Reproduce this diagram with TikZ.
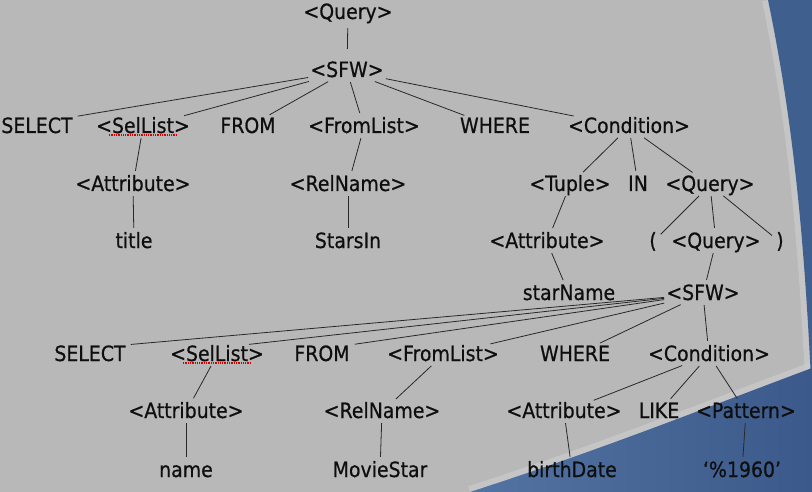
\documentclass[tikz,border=0pt]{standalone}
\usepackage{fontspec}
\setmainfont{DejaVu Sans}[FakeStretch=0.9, FakeBold=0.6]
\definecolor{slidegray}{HTML}{B8B8B8}
\definecolor{glowgray}{HTML}{CBCBCB}
\definecolor{slideblue}{HTML}{3F5F8E}
\definecolor{lowblue}{HTML}{5373A2}
\definecolor{deepblue}{HTML}{3B5A8B}
\definecolor{ink}{HTML}{0E0E0E}
\definecolor{wire}{HTML}{282828}
\tikzset{
    sym/.style={anchor=base, inner sep=1pt, text height=15pt, text depth=3pt,
        font=\fontsize{21pt}{25pt}\selectfont, text=ink},
    branch/.style={draw=wire, line width=0.8pt, shorten <=1pt, shorten >=4pt},
    spell/.style={draw=red!85!black, densely dotted, line width=1.3pt},
    glow/.style={draw=glowgray, line width=12pt, opacity=0.7}
}

\begin{document}
\begin{tikzpicture}[x=1pt, y=-1pt]
    \useasboundingbox (0,0) rectangle (812,492);
    % slide background
    \fill[slidegray] (0,0) rectangle (812,492);
    \draw[glow] (768,0) .. controls (795,130) and (805,250) .. (812,400);
    \draw[glow] (812,368) .. controls (700,410) and (600,450) .. (470,492);
    \fill[slideblue] (768,0) .. controls (795,130) and (805,250) .. (812,400) -- (812,0) -- cycle;
    \shade[left color=lowblue, right color=deepblue] (812,368) .. controls (700,410) and (600,450) .. (470,492) -- (812,492) -- cycle;

    % outer query
    \node[sym] (q0) at (348,19) {<Query>};
    \node[sym] (sfw1) at (347,77) {<SFW>};
    \node[sym] (sel1) at (37,133) {SELECT};
    \node[sym] (sl1) at (143,133) {<SelList>};
    \node[sym] (from1) at (248,133) {FROM};
    \node[sym] (fl1) at (364,133) {<FromList>};
    \node[sym] (wh1) at (495,133) {WHERE};
    \node[sym] (cond1) at (629,133) {<Condition>};
    \node[sym] (att1) at (133,191) {<Attribute>};
    \node[sym] (rel1) at (348,191) {<RelName>};
    \node[sym] (tup) at (570,191) {<Tuple>};
    \node[sym] (in) at (638,191) {IN};
    \node[sym] (q1) at (710,191) {<Query>};
    \node[sym] (title) at (134,248) {title};
    \node[sym] (stars) at (348,248) {StarsIn};
    \node[sym] (att2) at (547,248) {<Attribute>};
    \node[sym] (lp) at (653,248) {(};
    \node[sym] (q2) at (716,248) {<Query>};
    \node[sym] (rp) at (780,248) {)};
    \node[sym] (sname) at (569,300) {starName};

    % inner query
    \node[sym] (sfw2) at (703,300) {<SFW>};
    \node[sym] (sel2) at (90,361) {SELECT};
    \node[sym] (sl2) at (217,361) {<SelList>};
    \node[sym] (from2) at (322,361) {FROM};
    \node[sym] (fl2) at (443,361) {<FromList>};
    \node[sym] (wh2) at (575,361) {WHERE};
    \node[sym] (cond2) at (709,361) {<Condition>};
    \node[sym] (att3) at (186,418) {<Attribute>};
    \node[sym] (rel2) at (382,418) {<RelName>};
    \node[sym] (att4) at (564,418) {<Attribute>};
    \node[sym] (like) at (659,418) {LIKE};
    \node[sym] (pat) at (746,418) {<Pattern>};
    \node[sym] (name) at (186,477) {name};
    \node[sym] (movie) at (380,477) {MovieStar};
    \node[sym] (bdate) at (572,477) {birthDate};
    \node[sym] (pct) at (742,477) {‘\%1960’};

    \draw[spell] ([xshift=14pt,yshift=-2pt]sl1.base west) -- ([xshift=-15pt,yshift=-2pt]sl1.base east);
    \draw[spell] ([xshift=14pt,yshift=-2pt]sl2.base west) -- ([xshift=-15pt,yshift=-2pt]sl2.base east);

    \draw[branch] (q0) edge[shorten <=5pt, shorten >=12pt] (sfw1)
        (sfw1) edge (sel1.north east)
        (sfw1) edge (sl1)
        (sfw1) edge (from1)
        (sfw1) edge (fl1)
        (sfw1) edge (wh1)
        (sfw1) edge (cond1)
        (sl1) edge (att1)
        (att1) edge (title)
        (fl1) edge (rel1)
        (rel1) edge (stars)
        (cond1) edge (tup)
        (cond1) edge (in)
        (cond1) edge (q1)
        (tup) edge (att2)
        (att2) edge (sname)
        (q1) edge (lp)
        (q1) edge (q2)
        (q1) edge (rp)
        (q2) edge (sfw2);
    \draw[branch] (sfw2) edge (sel2.north east)
        (sfw2) edge ([xshift=-20pt]sl2.north east)
        (sfw2) edge (from2.north east)
        (sfw2) edge (fl2)
        (sfw2) edge (wh2)
        (sfw2) edge (cond2)
        (sl2) edge (att3)
        (att3) edge (name)
        (fl2) edge (rel2)
        (rel2) edge (movie)
        (cond2) edge (att4)
        (cond2) edge (like)
        (cond2) edge (pat)
        (att4) edge (bdate)
        (pat) edge (pct);
\end{tikzpicture}
\end{document}
